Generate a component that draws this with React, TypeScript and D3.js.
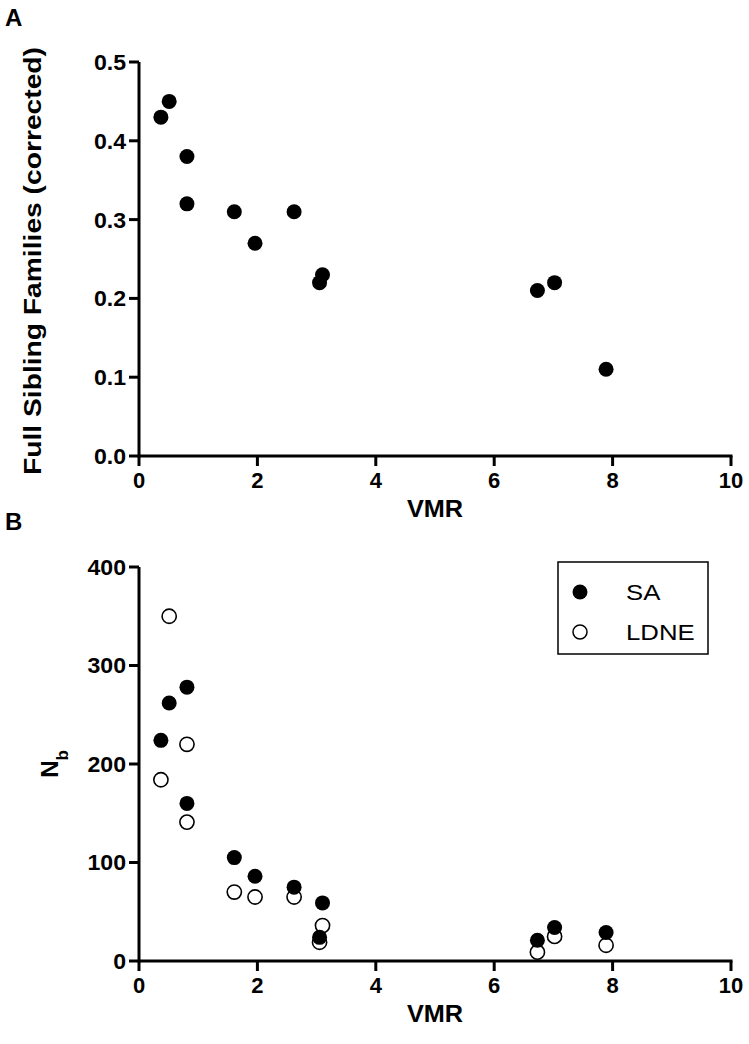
import React from "react";
import * as d3 from "d3";

const vmr = [0.37, 0.51, 0.81, 0.81, 1.61, 1.96, 2.62, 3.05, 3.10, 6.73, 7.02, 7.89];
const fullSib = [0.43, 0.45, 0.38, 0.32, 0.31, 0.27, 0.31, 0.22, 0.23, 0.21, 0.22, 0.11];
const nbSA = [224, 262, 278, 160, 105, 86, 75, 24, 59, 21, 34, 29];
const nbLDNE = [184, 350, 220, 141, 70, 65, 65, 19, 36, 9, 25, 16];
const xTicks = [0, 2, 4, 6, 8, 10];
const yTicksA = [0, 0.1, 0.2, 0.3, 0.4, 0.5];
const yTicksB = [0, 100, 200, 300, 400];
const legendLabels = ["SA", "LDNE"];

const FONT = "'Liberation Sans', Arial, sans-serif";

export default function App() {
  const x = d3.scaleLinear().domain([0, 10]).range([139, 731]);
  const yA = d3.scaleLinear().domain([0, 0.5]).range([456, 62]);
  const yB = d3.scaleLinear().domain([0, 400]).range([961, 567]);
  const fmtA = d3.format(".1f");
  const r = 7.5;

  const axes = (y: d3.ScaleLinear<number, number>, ticks: number[], fmt: (v: number) => string) => {
    const y0 = y.range()[0];
    const y1 = y.range()[1];
    return (
      <g>
        <line x1={x(0)} x2={x(0)} y1={y0 + 1.5} y2={y1} stroke="#000" strokeWidth={3} />
        <line x1={x(0)} x2={x(10) + 1.5} y1={y0} y2={y0} stroke="#000" strokeWidth={3} />
        {ticks.map((t) => (
          <g key={"y" + t}>
            <line x1={x(0) - 10} x2={x(0)} y1={y(t)} y2={y(t)} stroke="#000" strokeWidth={3} />
            <text
              transform={`translate(${x(0) - 13}, ${y(t)}) scale(1.05, 1)`}
              dy="0.36em"
              textAnchor="end"
              fontFamily={FONT}
              fontWeight="bold"
              fontSize={22}
            >
              {fmt(t)}
            </text>
          </g>
        ))}
        {xTicks.map((t) => (
          <g key={"x" + t}>
            <line x1={x(t)} x2={x(t)} y1={y0} y2={y0 + 10} stroke="#000" strokeWidth={3} />
            <text
              transform={`translate(${x(t)}, ${y0 + 32})`}
              textAnchor="middle"
              fontFamily={FONT}
              fontWeight="bold"
              fontSize={22}
            >
              {t}
            </text>
          </g>
        ))}
        <text
          transform={`translate(435, ${y0 + 61}) scale(1.1, 1)`}
          textAnchor="middle"
          fontFamily={FONT}
          fontWeight="bold"
          fontSize={23}
        >
          VMR
        </text>
      </g>
    );
  };

  return (
    <svg width={749} height={1044} style={{ position: "absolute", left: 0, top: 0, background: "#fff" }}>
      <rect width={749} height={1044} fill="#fff" />
      {/* Panel A */}
      <text x={5} y={26} fontFamily={FONT} fontWeight="bold" fontSize={24}>A</text>
      {axes(yA, yTicksA, (v) => fmtA(v))}
      <text
        transform={`translate(41, ${yA(0.25) + 2}) rotate(-90)`}
        textAnchor="middle"
        fontFamily={FONT}
        fontWeight="bold"
        fontSize={24}
        textLength={428}
        lengthAdjust="spacingAndGlyphs"
      >
        Full Sibling Families (corrected)
      </text>
      {vmr.map((v, i) => (
        <circle key={"a" + i} cx={x(v)} cy={yA(fullSib[i])} r={r} fill="#000" />
      ))}

      {/* Panel B */}
      <text x={5} y={530} fontFamily={FONT} fontWeight="bold" fontSize={24}>B</text>
      {axes(yB, yTicksB, (v) => String(v))}
      <text
        transform={`translate(58, 764) rotate(-90)`}
        textAnchor="middle"
        fontFamily={FONT}
        fontWeight="bold"
        fontSize={24}
      >
        N<tspan baselineShift="sub" fontSize={17}>b</tspan>
      </text>
      {vmr.map((v, i) => (
        <circle key={"l" + i} cx={x(v)} cy={yB(nbLDNE[i])} r={r - 0.4} fill="#fff" stroke="#000" strokeWidth={1.6} />
      ))}
      {vmr.map((v, i) => (
        <circle key={"s" + i} cx={x(v)} cy={yB(nbSA[i])} r={r} fill="#000" />
      ))}

      {/* Legend */}
      <rect x={558} y={562} width={150} height={92} fill="#fff" stroke="#000" strokeWidth={1.5} />
      <circle cx={580} cy={592} r={7.5} fill="#000" />
      <circle cx={580} cy={632} r={7} fill="#fff" stroke="#000" strokeWidth={1.5} />
      <text transform="translate(626, 600) scale(1.12, 1)" fontFamily={FONT} fontSize={23}>{legendLabels[0]}</text>
      <text transform="translate(626, 640) scale(1.12, 1)" fontFamily={FONT} fontSize={23}>{legendLabels[1]}</text>
    </svg>
  );
}
